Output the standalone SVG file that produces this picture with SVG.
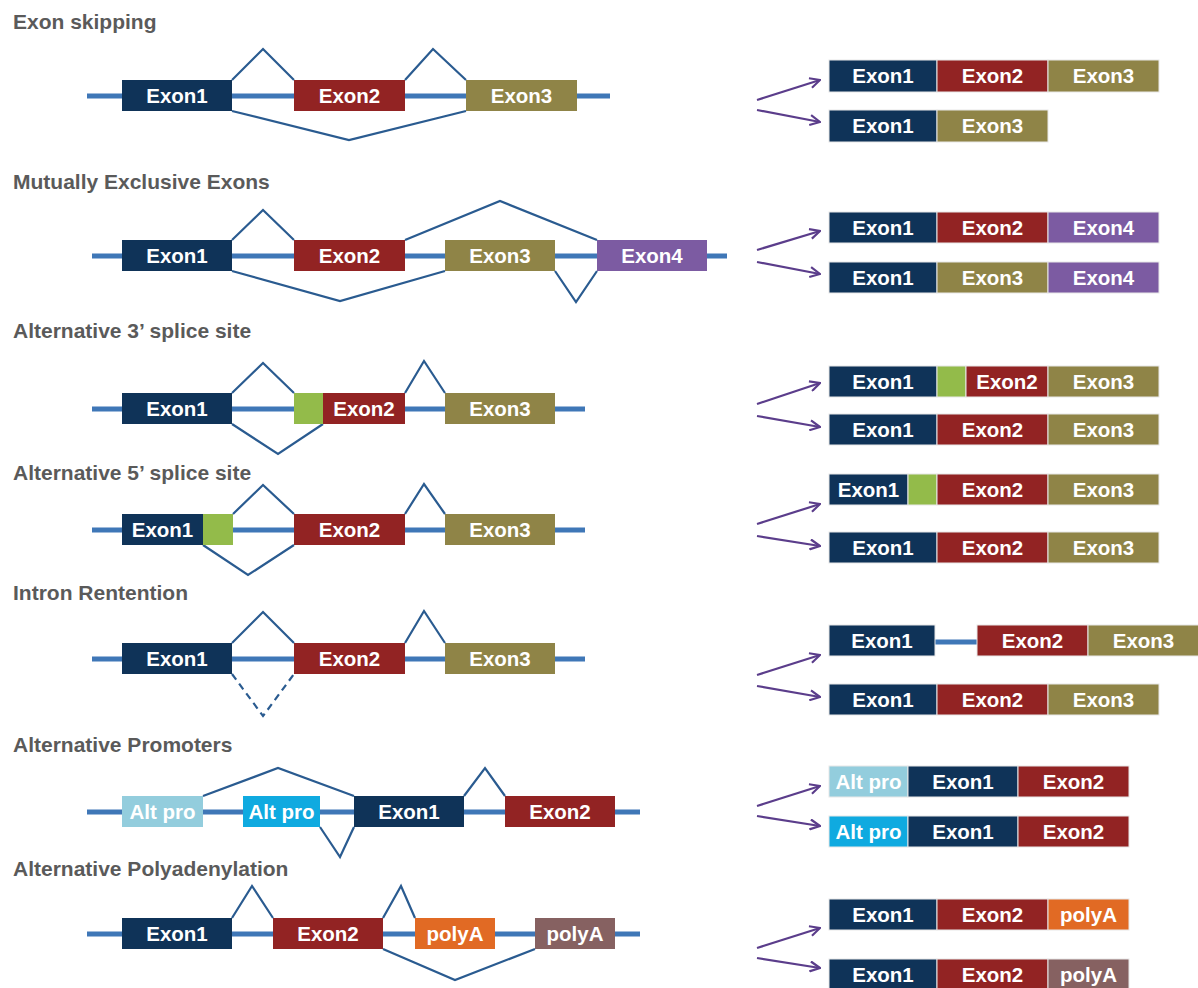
<svg xmlns="http://www.w3.org/2000/svg" width="1198" height="988" viewBox="0 0 1198 988">
<style>
.bg{fill:#ffffff}
.title{font-family:"Liberation Sans",Arial,sans-serif;font-size:21px;font-weight:bold;fill:#5a5a5a}
.lbl{font-family:"Liberation Sans",Arial,sans-serif;font-size:20.5px;font-weight:bold;fill:#ffffff;text-anchor:middle}
.intron{stroke:#3f77b7;stroke-width:5;fill:none}
.splice{stroke:#2a5b90;stroke-width:2.2;fill:none}
.dash{stroke-dasharray:7 5}
.arr{stroke:#5b3d8b;stroke-width:2.2;fill:none;marker-end:url(#ah)}
.b{stroke:#e8e8e8;stroke-width:1}
.e1{fill:#0f3358}
.e2{fill:#922323}
.e3{fill:#8f8447}
.e4{fill:#7c5ba2}
.gr{fill:#93bb4a}
.ap1{fill:#93cddd}
.ap2{fill:#0faae0}
.pa1{fill:#e16a24}
.pa2{fill:#866161}
</style>
<defs>
<marker id="ah" viewBox="0 0 12 12" refX="11" refY="6" markerWidth="12" markerHeight="12" markerUnits="userSpaceOnUse" orient="auto">
<polyline points="1,1 11,6 1,11" fill="none" stroke="#5b3d8b" stroke-width="2.2"/>
</marker>
</defs>
<rect class="bg" x="0" y="0" width="1198" height="988"/>

<!-- Section 1: Exon skipping -->
<g id="s1-title"><text class="title" x="13" y="29">Exon skipping</text></g>
<g id="s1-connectors">
<line class="intron" x1="87" y1="96" x2="610" y2="96"/>
<polyline class="splice" points="232,80 263,49 294,80"/>
<polyline class="splice" points="405,80 433,49 466,80"/>
<polyline class="splice" points="232,111 349,140 466,111"/>
</g>
<g id="s1-exon1"><rect class="e1" x="122" y="80" width="110" height="31"/><text class="lbl" x="177" y="103">Exon1</text></g>
<g id="s1-exon2"><rect class="e2" x="294" y="80" width="111" height="31"/><text class="lbl" x="349.5" y="103">Exon2</text></g>
<g id="s1-exon3"><rect class="e3" x="466" y="80" width="111" height="31"/><text class="lbl" x="521.5" y="103">Exon3</text></g>
<g id="s1-arrows">
<line class="arr" x1="757" y1="100" x2="820" y2="80"/>
<line class="arr" x1="757" y1="110" x2="820" y2="122"/>
</g>
<g id="s1-t1">
<rect class="e1 b" x="829" y="60" width="108" height="32"/><text class="lbl" x="883" y="83">Exon1</text>
<rect class="e2 b" x="937" y="60" width="111" height="32"/><text class="lbl" x="992.5" y="83">Exon2</text>
<rect class="e3 b" x="1048" y="60" width="111" height="32"/><text class="lbl" x="1103.5" y="83">Exon3</text>
</g>
<g id="s1-t2">
<rect class="e1 b" x="829" y="110" width="108" height="32"/><text class="lbl" x="883" y="133">Exon1</text>
<rect class="e3 b" x="937" y="110" width="111" height="32"/><text class="lbl" x="992.5" y="133">Exon3</text>
</g>

<!-- Section 2: Mutually Exclusive Exons -->
<g id="s2-title"><text class="title" x="13" y="189">Mutually Exclusive Exons</text></g>
<g id="s2-connectors">
<line class="intron" x1="92" y1="256" x2="727" y2="256"/>
<polyline class="splice" points="232,240 263,210 294,240"/>
<polyline class="splice" points="405,240 500,201 597,240"/>
<polyline class="splice" points="232,271 340,301 445,271"/>
<polyline class="splice" points="555,271 576,302 597,271"/>
</g>
<g id="s2-exon1"><rect class="e1" x="122" y="240" width="110" height="31"/><text class="lbl" x="177" y="263">Exon1</text></g>
<g id="s2-exon2"><rect class="e2" x="294" y="240" width="111" height="31"/><text class="lbl" x="349.5" y="263">Exon2</text></g>
<g id="s2-exon3"><rect class="e3" x="445" y="240" width="110" height="31"/><text class="lbl" x="500" y="263">Exon3</text></g>
<g id="s2-exon4"><rect class="e4" x="597" y="240" width="110" height="31"/><text class="lbl" x="652" y="263">Exon4</text></g>
<g id="s2-arrows">
<line class="arr" x1="757" y1="250" x2="820" y2="231"/>
<line class="arr" x1="757" y1="262" x2="820" y2="274"/>
</g>
<g id="s2-t1">
<rect class="e1 b" x="829" y="212" width="108" height="31"/><text class="lbl" x="883" y="234.5">Exon1</text>
<rect class="e2 b" x="937" y="212" width="111" height="31"/><text class="lbl" x="992.5" y="234.5">Exon2</text>
<rect class="e4 b" x="1048" y="212" width="111" height="31"/><text class="lbl" x="1103.5" y="234.5">Exon4</text>
</g>
<g id="s2-t2">
<rect class="e1 b" x="829" y="262" width="108" height="31"/><text class="lbl" x="883" y="284.5">Exon1</text>
<rect class="e3 b" x="937" y="262" width="111" height="31"/><text class="lbl" x="992.5" y="284.5">Exon3</text>
<rect class="e4 b" x="1048" y="262" width="111" height="31"/><text class="lbl" x="1103.5" y="284.5">Exon4</text>
</g>

<!-- Section 3: Alternative 3' splice site -->
<g id="s3-title"><text class="title" x="13" y="338">Alternative 3’ splice site</text></g>
<g id="s3-connectors">
<line class="intron" x1="92" y1="409" x2="585" y2="409"/>
<polyline class="splice" points="232,393 263,363 294,393"/>
<polyline class="splice" points="405,393 424,361 445,393"/>
<polyline class="splice" points="232,424 278,454 323,424"/>
</g>
<g id="s3-exon1"><rect class="e1" x="122" y="393" width="110" height="31"/><text class="lbl" x="177" y="416">Exon1</text></g>
<g id="s3-alt"><rect class="gr" x="294" y="393" width="29" height="31"/></g>
<g id="s3-exon2"><rect class="e2" x="323" y="393" width="82" height="31"/><text class="lbl" x="364" y="416">Exon2</text></g>
<g id="s3-exon3"><rect class="e3" x="445" y="393" width="110" height="31"/><text class="lbl" x="500" y="416">Exon3</text></g>
<g id="s3-arrows">
<line class="arr" x1="757" y1="404" x2="820" y2="383"/>
<line class="arr" x1="757" y1="416" x2="820" y2="427"/>
</g>
<g id="s3-t1">
<rect class="e1 b" x="829" y="366" width="108" height="31"/><text class="lbl" x="883" y="388.5">Exon1</text>
<rect class="gr b" x="937" y="366" width="29" height="31"/>
<rect class="e2 b" x="966" y="366" width="82" height="31"/><text class="lbl" x="1007" y="388.5">Exon2</text>
<rect class="e3 b" x="1048" y="366" width="111" height="31"/><text class="lbl" x="1103.5" y="388.5">Exon3</text>
</g>
<g id="s3-t2">
<rect class="e1 b" x="829" y="414" width="108" height="31"/><text class="lbl" x="883" y="436.5">Exon1</text>
<rect class="e2 b" x="937" y="414" width="111" height="31"/><text class="lbl" x="992.5" y="436.5">Exon2</text>
<rect class="e3 b" x="1048" y="414" width="111" height="31"/><text class="lbl" x="1103.5" y="436.5">Exon3</text>
</g>

<!-- Section 4: Alternative 5' splice site -->
<g id="s4-title"><text class="title" x="13" y="480">Alternative 5’ splice site</text></g>
<g id="s4-connectors">
<line class="intron" x1="92" y1="530" x2="585" y2="530"/>
<polyline class="splice" points="233,514 263,485 294,514"/>
<polyline class="splice" points="405,514 424,484 445,514"/>
<polyline class="splice" points="203,545 248,575 294,545"/>
</g>
<g id="s4-exon1"><rect class="e1" x="122" y="514" width="81" height="31"/><text class="lbl" x="162.5" y="537">Exon1</text></g>
<g id="s4-alt"><rect class="gr" x="203" y="514" width="30" height="31"/></g>
<g id="s4-exon2"><rect class="e2" x="294" y="514" width="111" height="31"/><text class="lbl" x="349.5" y="537">Exon2</text></g>
<g id="s4-exon3"><rect class="e3" x="445" y="514" width="110" height="31"/><text class="lbl" x="500" y="537">Exon3</text></g>
<g id="s4-arrows">
<line class="arr" x1="757" y1="524" x2="820" y2="504"/>
<line class="arr" x1="757" y1="536" x2="820" y2="546"/>
</g>
<g id="s4-t1">
<rect class="e1 b" x="829" y="474" width="79" height="31"/><text class="lbl" x="868.5" y="496.5">Exon1</text>
<rect class="gr b" x="908" y="474" width="29" height="31"/>
<rect class="e2 b" x="937" y="474" width="111" height="31"/><text class="lbl" x="992.5" y="496.5">Exon2</text>
<rect class="e3 b" x="1048" y="474" width="111" height="31"/><text class="lbl" x="1103.5" y="496.5">Exon3</text>
</g>
<g id="s4-t2">
<rect class="e1 b" x="829" y="532" width="108" height="31"/><text class="lbl" x="883" y="554.5">Exon1</text>
<rect class="e2 b" x="937" y="532" width="111" height="31"/><text class="lbl" x="992.5" y="554.5">Exon2</text>
<rect class="e3 b" x="1048" y="532" width="111" height="31"/><text class="lbl" x="1103.5" y="554.5">Exon3</text>
</g>

<!-- Section 5: Intron Rentention -->
<g id="s5-title"><text class="title" x="13" y="600">Intron Rentention</text></g>
<g id="s5-connectors">
<line class="intron" x1="92" y1="659" x2="585" y2="659"/>
<polyline class="splice" points="232,643 263,612 294,643"/>
<polyline class="splice" points="405,643 424,611 445,643"/>
<polyline class="splice dash" points="232,674 263,716 294,674"/>
</g>
<g id="s5-exon1"><rect class="e1" x="122" y="643" width="110" height="31"/><text class="lbl" x="177" y="666">Exon1</text></g>
<g id="s5-exon2"><rect class="e2" x="294" y="643" width="111" height="31"/><text class="lbl" x="349.5" y="666">Exon2</text></g>
<g id="s5-exon3"><rect class="e3" x="445" y="643" width="110" height="31"/><text class="lbl" x="500" y="666">Exon3</text></g>
<g id="s5-arrows">
<line class="arr" x1="757" y1="675" x2="820" y2="655"/>
<line class="arr" x1="757" y1="686" x2="820" y2="697"/>
</g>
<g id="s5-t1">
<line class="intron" x1="935" y1="642" x2="977" y2="642"/>
<rect class="e1 b" x="829" y="625" width="106" height="31"/><text class="lbl" x="882" y="647.5">Exon1</text>
<rect class="e2 b" x="977" y="625" width="111" height="31"/><text class="lbl" x="1032.5" y="647.5">Exon2</text>
<rect class="e3 b" x="1088" y="625" width="111" height="31"/><text class="lbl" x="1143.5" y="647.5">Exon3</text>
</g>
<g id="s5-t2">
<rect class="e1 b" x="829" y="684" width="108" height="31"/><text class="lbl" x="883" y="706.5">Exon1</text>
<rect class="e2 b" x="937" y="684" width="111" height="31"/><text class="lbl" x="992.5" y="706.5">Exon2</text>
<rect class="e3 b" x="1048" y="684" width="111" height="31"/><text class="lbl" x="1103.5" y="706.5">Exon3</text>
</g>

<!-- Section 6: Alternative Promoters -->
<g id="s6-title"><text class="title" x="13" y="752">Alternative Promoters</text></g>
<g id="s6-connectors">
<line class="intron" x1="87" y1="812" x2="640" y2="812"/>
<polyline class="splice" points="203,796 278,768 354,796"/>
<polyline class="splice" points="464,796 485,768 505,796"/>
<polyline class="splice" points="320,827 340,857 354,827"/>
</g>
<g id="s6-altpro1"><rect class="ap1" x="122" y="796" width="81" height="31"/><text class="lbl" x="162.5" y="819">Alt pro</text></g>
<g id="s6-altpro2"><rect class="ap2" x="243" y="796" width="77" height="31"/><text class="lbl" x="281.5" y="819">Alt pro</text></g>
<g id="s6-exon1"><rect class="e1" x="354" y="796" width="110" height="31"/><text class="lbl" x="409" y="819">Exon1</text></g>
<g id="s6-exon2"><rect class="e2" x="505" y="796" width="110" height="31"/><text class="lbl" x="560" y="819">Exon2</text></g>
<g id="s6-arrows">
<line class="arr" x1="757" y1="806" x2="820" y2="786"/>
<line class="arr" x1="757" y1="816" x2="820" y2="826"/>
</g>
<g id="s6-t1">
<rect class="ap1 b" x="829" y="766" width="79" height="31"/><text class="lbl" x="868.5" y="788.5">Alt pro</text>
<rect class="e1 b" x="908" y="766" width="110" height="31"/><text class="lbl" x="963" y="788.5">Exon1</text>
<rect class="e2 b" x="1018" y="766" width="111" height="31"/><text class="lbl" x="1073.5" y="788.5">Exon2</text>
</g>
<g id="s6-t2">
<rect class="ap2 b" x="829" y="816" width="79" height="31"/><text class="lbl" x="868.5" y="838.5">Alt pro</text>
<rect class="e1 b" x="908" y="816" width="110" height="31"/><text class="lbl" x="963" y="838.5">Exon1</text>
<rect class="e2 b" x="1018" y="816" width="111" height="31"/><text class="lbl" x="1073.5" y="838.5">Exon2</text>
</g>

<!-- Section 7: Alternative Polyadenylation -->
<g id="s7-title"><text class="title" x="13" y="876">Alternative Polyadenylation</text></g>
<g id="s7-connectors">
<line class="intron" x1="87" y1="934" x2="640" y2="934"/>
<polyline class="splice" points="232,918 252,886 273,918"/>
<polyline class="splice" points="383,918 401,886 415,918"/>
<polyline class="splice" points="383,949 455,980 535,949"/>
</g>
<g id="s7-exon1"><rect class="e1" x="122" y="918" width="110" height="31"/><text class="lbl" x="177" y="941">Exon1</text></g>
<g id="s7-exon2"><rect class="e2" x="273" y="918" width="110" height="31"/><text class="lbl" x="328" y="941">Exon2</text></g>
<g id="s7-polya1"><rect class="pa1" x="415" y="918" width="80" height="31"/><text class="lbl" x="455" y="941">polyA</text></g>
<g id="s7-polya2"><rect class="pa2" x="535" y="918" width="80" height="31"/><text class="lbl" x="575" y="941">polyA</text></g>
<g id="s7-arrows">
<line class="arr" x1="757" y1="948" x2="820" y2="928"/>
<line class="arr" x1="757" y1="958" x2="820" y2="968"/>
</g>
<g id="s7-t1">
<rect class="e1 b" x="829" y="899" width="108" height="31"/><text class="lbl" x="883" y="921.5">Exon1</text>
<rect class="e2 b" x="937" y="899" width="111" height="31"/><text class="lbl" x="992.5" y="921.5">Exon2</text>
<rect class="pa1 b" x="1048" y="899" width="81" height="31"/><text class="lbl" x="1088.5" y="921.5">polyA</text>
</g>
<g id="s7-t2">
<rect class="e1 b" x="829" y="959" width="108" height="31"/><text class="lbl" x="883" y="981.5">Exon1</text>
<rect class="e2 b" x="937" y="959" width="111" height="31"/><text class="lbl" x="992.5" y="981.5">Exon2</text>
<rect class="pa2 b" x="1048" y="959" width="81" height="31"/><text class="lbl" x="1088.5" y="981.5">polyA</text>
</g>
</svg>
